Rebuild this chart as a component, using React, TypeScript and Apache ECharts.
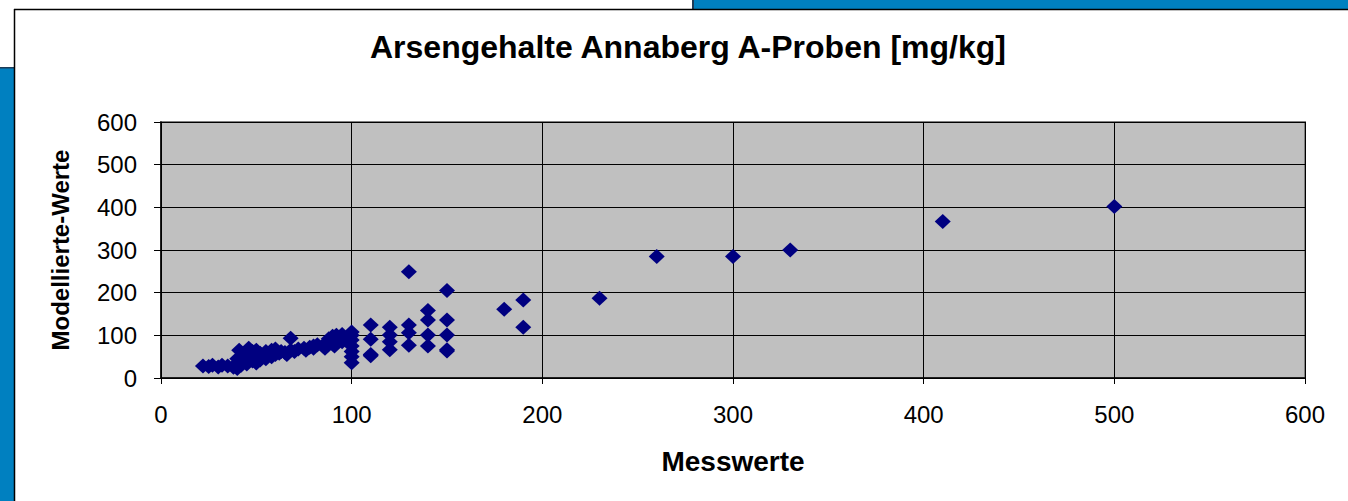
import React, { useEffect, useRef } from "react";
import * as echarts from "echarts";

const TITLE = "Arsengehalte Annaberg A-Proben [mg/kg]";
const X_NAME = "Messwerte";
const Y_NAME = "Modellierte-Werte";
const AXIS_MIN = 0;
const AXIS_MAX = 600;
const AXIS_STEP = 100;

// Messwerte (x)
const measured: number[] = [
  22, 25, 27, 30, 32, 35, 38, 40, 40, 40, 41, 42, 43, 45, 45, 46, 47, 48, 48, 50,
  50, 50, 52, 52, 54, 55, 55, 56, 58, 58, 60, 60, 62, 63, 65, 66, 68, 68, 70, 72,
  75, 76, 78, 80, 80, 82, 85, 86, 86, 88, 88, 90, 90, 91, 92, 92, 94, 95, 95,
  100, 100, 100, 100, 100, 100, 100,
  110, 110, 110, 110,
  120, 120, 120, 120,
  130, 130, 130, 130,
  140, 140, 140, 140,
  150, 150, 150, 150, 150,
  180, 190, 190, 230, 260, 300, 330, 410, 500,
];

// Modellierte Werte (y)
const modelled: number[] = [
  28, 27, 30, 26, 30, 28, 25, 22, 35, 45, 65, 30, 40, 50, 33, 70, 55, 40, 62, 35,
  48, 65, 42, 58, 50, 45, 62, 55, 50, 65, 55, 68, 58, 62, 60, 55, 93, 65, 62, 68,
  70, 65, 72, 75, 70, 78, 75, 80, 70, 85, 92, 98, 80, 75, 90, 100, 95, 85, 102,
  108, 100, 89, 75, 62, 50, 36,
  124, 91, 52, 55,
  119, 101, 85, 66,
  249, 124, 106, 77,
  158, 136, 101, 75,
  205, 136, 101, 63, 66,
  161, 183, 119, 187, 285, 285, 300, 367, 402,
];

export default function App() {
  const ref = useRef<HTMLDivElement>(null);

  useEffect(() => {
    if (!ref.current) return;
    const chart = echarts.init(ref.current, null, { renderer: "svg" });
    const points = measured.map((x, i) => [x, modelled[i]]);
    const font = "'Liberation Sans', Arial, sans-serif";
    const blue = "#0080C0";

    chart.setOption({
      animation: false,
      backgroundColor: "#ffffff",
      title: {
        text: TITLE,
        left: 365,
        top: 26,
        textStyle: {
          fontFamily: font,
          fontWeight: "bold",
          fontSize: 32,
          color: "#000",
        },
      },
      graphic: [
        { type: "rect", shape: { x: 694, y: 0, width: 654, height: 9 }, style: { fill: blue }, silent: true },
        { type: "rect", shape: { x: 692, y: 0, width: 2, height: 9 }, style: { fill: "#1d3b57" }, silent: true },
        { type: "rect", shape: { x: 0, y: 68, width: 14, height: 433 }, style: { fill: blue }, silent: true },
        { type: "rect", shape: { x: 0, y: 67, width: 14, height: 1.5 }, style: { fill: "#1d3b57" }, silent: true },
        { type: "line", shape: { x1: 14, y1: 9.5, x2: 1348, y2: 9.5 }, style: { stroke: "#000", lineWidth: 1.5 }, silent: true },
        { type: "line", shape: { x1: 14.5, y1: 9, x2: 14.5, y2: 501 }, style: { stroke: "#000", lineWidth: 1.5 }, silent: true },
      ],
      grid: {
        left: 161,
        right: 43,
        top: 122,
        bottom: 123,
        show: true,
        backgroundColor: "#C0C0C0",
        borderColor: "#808080",
        borderWidth: 2,
        containLabel: false,
        outerBoundsMode: "none",
      },
      xAxis: {
        type: "value",
        min: AXIS_MIN,
        max: AXIS_MAX,
        interval: AXIS_STEP,
        name: X_NAME,
        nameLocation: "middle",
        nameGap: 69,
        nameTextStyle: { fontFamily: font, fontWeight: "bold", fontSize: 28, color: "#000" },
        axisLine: { show: true, onZero: false, lineStyle: { color: "#000", width: 1.5 } },
        axisTick: { show: true, length: 6, inside: false, lineStyle: { color: "#000", width: 1 } },
        axisLabel: { fontFamily: font, fontSize: 24, color: "#000", margin: 24 },
        splitLine: { show: true, lineStyle: { color: "#000", width: 1 } },
      },
      yAxis: {
        type: "value",
        min: AXIS_MIN,
        max: AXIS_MAX,
        interval: AXIS_STEP,
        name: Y_NAME,
        nameLocation: "middle",
        nameGap: 89,
        nameTextStyle: { fontFamily: font, fontWeight: "bold", fontSize: 24, color: "#000" },
        axisLine: { show: true, onZero: false, lineStyle: { color: "#000", width: 1.5 } },
        axisTick: { show: true, length: 7, inside: false, lineStyle: { color: "#000", width: 1 } },
        axisLabel: { fontFamily: font, fontSize: 24, color: "#000", margin: 24 },
        splitLine: { show: true, lineStyle: { color: "#000", width: 1 } },
      },
      series: [
        {
          type: "scatter",
          data: points,
          symbol: "diamond",
          symbolSize: [16, 15],
          itemStyle: { color: "#000080", opacity: 1 },
        },
      ],
    });

    return () => chart.dispose();
  }, []);

  return (
    <div
      ref={ref}
      style={{ position: "absolute", left: 0, top: 0, width: 1348, height: 501 }}
    />
  );
}
